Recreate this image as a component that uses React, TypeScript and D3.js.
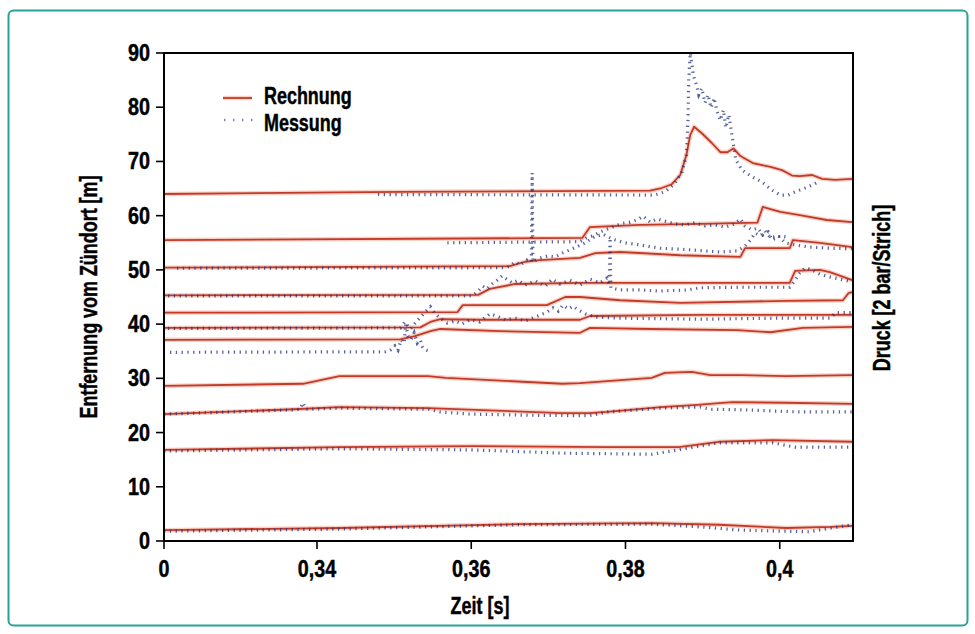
import React from 'react';
import * as d3 from 'd3';

type P = [number, number];

// axis ticks
const xTickValues = [0, 0.34, 0.36, 0.38, 0.4];
const yTickValues = [0, 10, 20, 30, 40, 50, 60, 70, 80, 90];

// Rechnung (calculation) traces: [time s, distance m]
const calc64: P[] = [[0, 64.0], [0.3508, 64.4], [0.3832, 64.6], [0.3847, 65.1], [0.386, 65.8], [0.3871, 67.5], [0.3879, 71.2], [0.3884, 74.9], [0.3889, 76.4], [0.3899, 75.2], [0.3912, 73.4], [0.3923, 71.7], [0.3932, 71.7], [0.394, 72.4], [0.3949, 71.0], [0.3965, 69.7], [0.3988, 69.0], [0.4003, 68.4], [0.4016, 67.4], [0.4026, 67.3], [0.4042, 67.5], [0.4055, 66.8], [0.4072, 66.6], [0.4094, 66.8]];
const calc55: P[] = [[0, 55.5], [0.3744, 55.9], [0.3754, 57.9], [0.3819, 58.3], [0.3897, 58.5], [0.3971, 58.7], [0.3978, 61.6], [0.3988, 61.2], [0.4001, 60.7], [0.4026, 60.1], [0.4061, 59.2], [0.4094, 58.8]];
const calc50: P[] = [[0, 50.4], [0.365, 50.7], [0.367, 51.5], [0.3689, 51.8], [0.3741, 52.2], [0.3761, 53.1], [0.3793, 53.3], [0.3871, 52.7], [0.3949, 52.4], [0.3955, 54.0], [0.4013, 54.0], [0.4017, 55.5], [0.4052, 55.0], [0.4094, 54.2]];
const calc45: P[] = [[0, 45.3], [0.3609, 45.4], [0.3624, 46.5], [0.3657, 47.4], [0.3741, 47.6], [0.3897, 47.6], [0.4013, 47.6], [0.402, 49.8], [0.4052, 50.0], [0.4065, 49.6], [0.4094, 48.1]];
const calc42: P[] = [[0, 42.1], [0.3582, 42.2], [0.3589, 43.5], [0.3698, 43.5], [0.3722, 45.0], [0.3741, 45.0], [0.3793, 44.4], [0.3871, 43.9], [0.401, 44.3], [0.4082, 44.4], [0.4089, 45.7], [0.4094, 45.9]];
const calc39: P[] = [[0, 39.3], [0.3534, 39.4], [0.3547, 40.4], [0.356, 40.9], [0.3611, 40.8], [0.3741, 40.8], [0.3754, 41.5], [0.3897, 41.7], [0.4094, 41.7]];
const calc37: P[] = [[0, 37.1], [0.3508, 37.2], [0.3527, 37.8], [0.3547, 38.7], [0.356, 39.1], [0.3637, 38.7], [0.3741, 38.4], [0.3754, 39.3], [0.3832, 39.1], [0.3945, 38.9], [0.3988, 38.5], [0.403, 39.3], [0.4094, 39.5]];
const calc28: P[] = [[0, 28.6], [0.3089, 29.0], [0.3429, 30.4], [0.3544, 30.4], [0.3567, 30.1], [0.3718, 29.0], [0.3741, 29.1], [0.3834, 30.1], [0.3851, 31.0], [0.3886, 31.2], [0.391, 30.6], [0.395, 30.6], [0.4008, 30.4], [0.4094, 30.6]];
const calc23: P[] = [[0, 23.4], [0.2889, 24.3], [0.3429, 24.7], [0.3544, 24.5], [0.3718, 23.6], [0.3753, 23.6], [0.3776, 23.8], [0.3846, 24.7], [0.3893, 25.1], [0.3938, 25.6], [0.4008, 25.5], [0.4094, 25.3]];
const calc16: P[] = [[0, 16.8], [0.3429, 17.3], [0.3602, 17.5], [0.3776, 17.3], [0.3869, 17.3], [0.3921, 18.3], [0.3991, 18.6], [0.4094, 18.3]];
const calc02: P[] = [[0, 2.0], [0.3429, 2.4], [0.3661, 3.1], [0.3834, 3.3], [0.3921, 3.0], [0.4008, 2.4], [0.4067, 2.6], [0.4094, 2.8]];

// Messung (measurement) traces: [time s, distance m]
const meas64: P[] = [[0.3479, 63.9], [0.3838, 63.8], [0.3851, 64.4], [0.3863, 65.8], [0.3873, 67.9], [0.3879, 71.2], [0.3881, 77.6], [0.3882, 85.0], [0.3884, 90.0], [0.3888, 85.9], [0.3892, 84.1], [0.3895, 82.3], [0.3899, 83.5], [0.3903, 80.8], [0.3907, 82.3], [0.3911, 79.9], [0.3915, 81.7], [0.3919, 79.1], [0.3923, 77.6], [0.3927, 79.5], [0.393, 76.2], [0.3934, 78.6], [0.3938, 74.9], [0.3943, 70.3], [0.3951, 68.4], [0.3965, 67.1], [0.3977, 66.2], [0.399, 64.7], [0.4001, 63.8], [0.4011, 63.8], [0.402, 64.4], [0.4033, 65.1], [0.4043, 65.7], [0.4052, 66.4]];
const meas55: P[] = [[0.3569, 55.0], [0.3741, 55.2], [0.3749, 55.9], [0.3758, 56.3], [0.3767, 57.0], [0.3776, 57.5], [0.3787, 58.1], [0.3796, 58.6], [0.3806, 58.8], [0.3815, 59.2], [0.3823, 59.9], [0.3832, 58.8], [0.3841, 59.4], [0.3851, 59.0], [0.3864, 58.5], [0.3877, 58.3], [0.389, 58.7], [0.3903, 58.1], [0.3916, 58.3], [0.3929, 57.9], [0.3942, 58.5], [0.3949, 59.4], [0.3955, 58.1], [0.3964, 57.4], [0.3972, 57.7], [0.3978, 56.4], [0.3985, 57.0], [0.399, 55.5], [0.4001, 56.3], [0.4013, 55.9]];
const meas50: P[] = [[0.0289, 50.3], [0.3644, 50.4], [0.365, 50.7], [0.3657, 51.5], [0.3663, 50.9], [0.3672, 51.8], [0.3678, 51.5], [0.3679, 67.9], [0.368, 51.5], [0.3689, 52.2], [0.37, 52.6], [0.3709, 52.4], [0.3718, 53.1], [0.3728, 53.7], [0.3739, 54.4], [0.3748, 55.0], [0.3757, 55.9], [0.3764, 56.3], [0.3771, 56.6], [0.3777, 56.1], [0.3787, 55.5], [0.3799, 55.0], [0.3819, 54.6], [0.3845, 54.0], [0.3884, 53.7], [0.3923, 53.3], [0.3945, 53.5], [0.3955, 54.4], [0.3962, 55.5], [0.3968, 56.8], [0.3975, 56.3], [0.3981, 57.2], [0.3988, 55.9], [0.3998, 56.3], [0.4007, 55.0], [0.402, 54.6], [0.4039, 54.2], [0.4065, 54.0], [0.4094, 53.9]];
const meas45: P[] = [[0.0089, 45.2], [0.3602, 45.2], [0.3609, 46.1], [0.3615, 47.0], [0.362, 46.5], [0.3627, 47.4], [0.3633, 48.0], [0.364, 48.9], [0.3646, 48.3], [0.3653, 47.6], [0.3661, 48.1], [0.367, 47.2], [0.3683, 48.0], [0.3696, 47.0], [0.3705, 48.3], [0.3715, 47.4], [0.3728, 48.1], [0.3741, 47.2], [0.3754, 48.3], [0.3767, 47.6], [0.3776, 48.5], [0.3779, 47.2], [0.378, 55.9], [0.3781, 46.7], [0.3793, 46.3], [0.3819, 46.3], [0.3845, 46.1], [0.388, 46.3], [0.3897, 46.7], [0.3949, 46.8], [0.4013, 46.8], [0.402, 48.1], [0.4026, 49.4], [0.4033, 50.4], [0.4042, 50.0], [0.4052, 49.2], [0.4065, 48.7], [0.4078, 48.3], [0.4094, 47.8]];
const meas39: P[] = [[0.0089, 39.2], [0.3508, 39.3], [0.3514, 40.4], [0.3521, 39.1], [0.3531, 40.8], [0.354, 42.2], [0.3547, 43.2], [0.3553, 41.9], [0.356, 41.1], [0.3569, 40.2], [0.3579, 40.6], [0.3588, 40.0], [0.3598, 40.8], [0.3611, 40.4], [0.3624, 41.9], [0.3633, 41.5], [0.3644, 40.8], [0.3657, 41.1], [0.367, 40.6], [0.3683, 41.3], [0.3698, 42.2], [0.3706, 43.0], [0.3713, 42.4], [0.3719, 43.5], [0.3726, 42.8], [0.3732, 43.3], [0.3739, 42.6], [0.3748, 41.9], [0.3761, 41.3], [0.3793, 41.1], [0.3897, 40.9], [0.4001, 41.1], [0.4065, 41.1], [0.4073, 42.1], [0.4094, 42.1]];
const meas35: P[] = [[0.0133, 34.8], [0.3488, 34.9], [0.3495, 35.2], [0.3501, 36.0], [0.3505, 35.2], [0.3509, 37.1], [0.3513, 36.5], [0.3515, 40.0], [0.3518, 37.8], [0.3522, 37.1], [0.3526, 38.4], [0.353, 36.5], [0.3534, 37.1], [0.3537, 35.8], [0.3541, 35.2], [0.3547, 34.9]];
const meas23: P[] = [[0, 23.4], [0.2889, 24.2], [0.3022, 24.3], [0.3089, 25.5], [0.3156, 24.3], [0.3429, 24.5], [0.3544, 24.3], [0.356, 23.8], [0.3598, 23.4], [0.3676, 23.2], [0.3753, 23.1], [0.3776, 23.8], [0.3846, 24.5], [0.3897, 24.7], [0.391, 24.3], [0.395, 24.2], [0.4026, 23.8], [0.4094, 23.8]];
const meas16: P[] = [[0, 16.6], [0.3429, 17.0], [0.3602, 16.8], [0.3718, 16.2], [0.3834, 16.0], [0.3869, 16.8], [0.3921, 18.1], [0.3991, 18.1], [0.402, 17.3], [0.4094, 17.3]];
const meas02: P[] = [[0, 1.8], [0.3429, 2.2], [0.3661, 3.0], [0.3834, 3.1], [0.3897, 2.6], [0.395, 2.0], [0.4038, 1.7], [0.4067, 2.4], [0.4094, 3.0]];

const calcSeries = [calc64, calc55, calc50, calc45, calc42, calc39, calc37, calc28, calc23, calc16, calc02];
const measSeries = [meas64, meas55, meas50, meas45, meas39, meas35, meas23, meas16, meas02];

const FONT = "'Liberation Sans', Arial, sans-serif";
const RED = '#c23a2a';
const RED_HALO = '#f3a58d';
const BLUE = '#1f2f78';

function CText(props: { x: number; y: number; anchor?: string; rotate?: number; size?: number; sx?: number; children: React.ReactNode }) {
  const { x, y, anchor = 'start', rotate = 0, size = 23, sx = 0.78, children } = props;
  return (
    <g transform={`translate(${x},${y}) rotate(${rotate}) scale(${sx},1)`}>
      <text x={0} y={0} textAnchor={anchor} fontSize={size} fontWeight="bold" fill="#000" stroke="#000" strokeWidth={0.45} fontFamily={FONT}>{children}</text>
    </g>
  );
}

export default function App() {
  const W = 975;
  const H = 634;
  const left = 164, right = 853, top = 53, bottom = 541;

  // broken time axis: "0" followed by 0.34 ... 0.40
  const x = d3.scaleLinear().domain([0, 0.34, 0.4095]).range([left, 317, right]);
  const y = d3.scaleLinear().domain([0, 90]).range([bottom, top]);
  const line = d3.line<P>().x(d => x(d[0])).y(d => y(d[1]));
  const fmt = (d: number) => (d === 0 ? '0' : d3.format('.2~f')(d).replace('.', ','));

  return (
    <svg width={W} height={H} style={{ position: 'absolute', left: 0, top: 0, background: '#fff' }} fontFamily={FONT}>
      <rect x={0} y={0} width={W} height={H} fill="#fff" />
      <rect x={8.5} y={10.5} width={959} height={615} rx={5} fill="none" stroke="#2aa198" strokeWidth={2} />
      <defs>
        <clipPath id="plotClip">
          <rect x={left} y={top} width={right - left} height={bottom - top} />
        </clipPath>
      </defs>

      <g clipPath="url(#plotClip)">
        {calcSeries.map((s, i) => (
          <path key={'h' + i} d={line(s) || ''} fill="none" stroke={RED_HALO} strokeWidth={4.5} strokeOpacity={0.5} strokeLinejoin="round" />
        ))}
        {calcSeries.map((s, i) => (
          <path key={'c' + i} d={line(s) || ''} fill="none" stroke={RED} strokeWidth={1.8} strokeLinejoin="round" />
        ))}
        {measSeries.map((s, i) => (
          <path key={'m' + i} d={line(s) || ''} fill="none" stroke={BLUE} strokeWidth={3.2} strokeDasharray="1.3 4.5" strokeOpacity={0.75} />
        ))}
      </g>

      {/* frame */}
      <rect x={left} y={top} width={right - left} height={bottom - top} fill="none" stroke="#000" strokeWidth={2} />

      {/* y axis */}
      {yTickValues.map(v => (
        <g key={'y' + v}>
          <line x1={left - 8} x2={left} y1={y(v)} y2={y(v)} stroke="#000" strokeWidth={1.6} />
          <CText x={left - 14} y={y(v) + 8} anchor="end" size={23} sx={0.86}>{v}</CText>
        </g>
      ))}
      {/* x axis */}
      {xTickValues.map(v => (
        <g key={'x' + v}>
          <line x1={x(v)} x2={x(v)} y1={bottom} y2={bottom + 8} stroke="#000" strokeWidth={1.6} />
          <CText x={x(v)} y={577} anchor="middle" size={23.5} sx={0.84}>{fmt(v)}</CText>
        </g>
      ))}

      <CText x={480} y={614} anchor="middle">Zeit [s]</CText>
      <CText x={97} y={297} anchor="middle" rotate={-90}>Entfernung vom Zündort [m]</CText>
      <CText x={890} y={288} anchor="middle" rotate={-90}>Druck [2 bar/Strich]</CText>

      {/* legend */}
      <line x1={223} x2={252} y1={98} y2={98} stroke={RED_HALO} strokeWidth={4.5} strokeOpacity={0.5} />
      <line x1={223} x2={252} y1={98} y2={98} stroke={RED} strokeWidth={1.8} />
      <CText x={264} y={104}>Rechnung</CText>
      <line x1={224} x2={254} y1={120} y2={120} stroke={BLUE} strokeWidth={2.6} strokeDasharray="1.4 7.6" strokeOpacity={0.6} />
      <CText x={264} y={131}>Messung</CText>
    </svg>
  );
}
